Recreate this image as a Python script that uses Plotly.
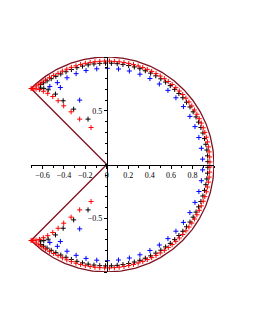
import numpy as np
import plotly.graph_objects as go

# ---------------- data (upper half; lower half is the complex conjugate) -------------
# points on the arc part: angle in degrees, radius
red_ang = [1.4, 4.2, 7.0, 9.8, 12.6, 15.3, 18.1, 20.8, 23.6, 26.3, 29.1, 31.8, 34.5, 37.2,
           39.9, 42.6, 45.3, 48.0, 50.7, 53.4, 56.1, 58.8, 61.5, 64.2, 66.9, 69.6, 72.3,
           75.0, 77.7, 80.4, 83.1, 85.8, 88.5, 91.2, 93.9, 96.6, 99.3, 102.0, 104.7, 107.4,
           110.1, 112.8, 115.5, 118.2, 120.9, 123.5, 126.0, 128.3, 130.3, 132.0]
red_rad = [0.962, 0.962, 0.962, 0.962, 0.962, 0.962, 0.962, 0.962, 0.962, 0.962, 0.962,
           0.962, 0.962, 0.962, 0.962, 0.962, 0.962, 0.962, 0.962, 0.962, 0.962, 0.962,
           0.962, 0.962, 0.962, 0.962, 0.962, 0.962, 0.962, 0.962, 0.962, 0.962, 0.962,
           0.962, 0.962, 0.962, 0.962, 0.962, 0.962, 0.962, 0.962, 0.962, 0.962, 0.962,
           0.965, 0.968, 0.972, 0.976, 0.980, 0.984]
# points near the corner and along the straight edge
red_x = [-0.660, -0.680, -0.695, -0.707, -0.628, -0.592, -0.551, -0.504, -0.454, -0.402,
         -0.333, -0.253, -0.147]
red_y = [0.703, 0.706, 0.707, 0.707, 0.697, 0.681, 0.662, 0.632, 0.593, 0.546,
         0.490, 0.422, 0.344]

black_ang = [1.6, 4.9, 8.2, 11.5, 14.8, 18.1, 21.4, 24.7, 28.0, 31.3, 34.6, 37.9, 41.2,
             44.5, 47.8, 51.1, 54.4, 57.7, 61.0, 64.3, 67.6, 70.9, 74.2, 77.5, 80.8, 84.1,
             87.4, 90.7, 94.0, 97.3, 100.6, 103.9, 107.2, 110.5, 113.8, 117.0, 120.1,
             123.0, 125.6, 127.8, 129.6]
black_rad = [0.943, 0.943, 0.943, 0.943, 0.943, 0.943, 0.943, 0.943, 0.943, 0.943, 0.943,
             0.943, 0.943, 0.943, 0.943, 0.943, 0.943, 0.943, 0.943, 0.943, 0.943, 0.943,
             0.943, 0.943, 0.943, 0.943, 0.943, 0.943, 0.943, 0.943, 0.943, 0.943, 0.943,
             0.943, 0.943, 0.945, 0.948, 0.952, 0.957, 0.962, 0.967]
black_x = [-0.620, -0.588, -0.547, -0.479, -0.407, -0.309, -0.175]
black_y = [0.712, 0.708, 0.695, 0.655, 0.593, 0.515, 0.422]

blue_ang = [3.2, 9.7, 16.3, 23.2, 30.0, 37.0, 43.9, 50.4, 56.8, 63.3, 69.8, 76.4, 83.0,
            89.6, 96.0, 102.5, 108.7, 114.7, 121.2, 126.2]
blue_rad = [0.895, 0.895, 0.895, 0.895, 0.895, 0.895, 0.895, 0.895, 0.895, 0.895, 0.895,
            0.895, 0.895, 0.895, 0.895, 0.895, 0.892, 0.888, 0.890, 0.900]
blue_x = [-0.433, -0.253]
blue_y = [0.716, 0.599]

# boundary of the sector region
sector_radius = 1.0
sector_half_angle = 135.0

x_ticks = [-0.6, -0.4, -0.2, 0, 0.2, 0.4, 0.6, 0.8]
x_tick_text = ["\u22120.6", "\u22120.4", "\u22120.2", "0", "0.2", "0.4", "0.6", "0.8"]
y_ticks = [-1, -0.5, 0.5, 1]
y_tick_text = ["", "\u22120.5", "0.5", ""]

# ---------------- build ----------------
def series(ang, rad, ex, ey):
    a = np.radians(ang)
    r = np.asarray(rad)
    ux = np.concatenate([r * np.cos(a), ex])
    uy = np.concatenate([r * np.sin(a), ey])
    return np.concatenate([ux, ux]), np.concatenate([uy, -uy])

fig = go.Figure()

t = np.radians(np.linspace(-sector_half_angle, sector_half_angle, 500))
bx = np.concatenate([[0], sector_radius * np.cos(t), [0]])
by = np.concatenate([[0], sector_radius * np.sin(t), [0]])
fig.add_trace(go.Scatter(x=bx, y=by, mode="lines",
                         line=dict(color="#7d1220", width=1.3),
                         cliponaxis=False, hoverinfo="skip"))

for (ang, rad, ex, ey, col) in [(blue_ang, blue_rad, blue_x, blue_y, "#0000ff"),
                                (black_ang, black_rad, black_x, black_y, "#000000"),
                                (red_ang, red_rad, red_x, red_y, "#ff0000")]:
    sx, sy = series(ang, rad, ex, ey)
    fig.add_trace(go.Scatter(x=sx, y=sy, mode="markers", cliponaxis=False,
                             hoverinfo="skip",
                             marker=dict(symbol="cross-thin", size=3.6,
                                         line=dict(color=col, width=1))))

font = dict(family="Liberation Serif, Times New Roman, serif", size=8, color="#000000")
fig.update_layout(
    width=255, height=330,
    margin=dict(l=31, r=41, t=57, b=58),
    paper_bgcolor="white", plot_bgcolor="white",
    showlegend=False,
    font=font,
    xaxis=dict(range=[-0.707, 1.0], anchor="free", position=0.5,
               showline=True, linecolor="#000000", linewidth=1,
               showgrid=False, zeroline=False,
               tickmode="array", tickvals=x_ticks, ticktext=x_tick_text,
               ticks="outside", ticklen=3, tickcolor="#000000", tickwidth=1,
               minor=dict(dtick=0.1, tick0=0, ticks="outside", ticklen=2,
                          tickcolor="#000000", showgrid=False),
               tickfont=font),
    yaxis=dict(range=[-1.0, 1.0], anchor="free", position=0.707 / 1.707,
               showline=True, linecolor="#000000", linewidth=1,
               showgrid=False, zeroline=False,
               tickmode="array", tickvals=y_ticks, ticktext=y_tick_text,
               ticks="outside", ticklen=3, tickcolor="#000000", tickwidth=1,
               minor=dict(dtick=0.1, tick0=0, ticks="outside", ticklen=2,
                          tickcolor="#000000", showgrid=False),
               tickfont=font),
)

fig.write_html("out.html", config={"displayModeBar": False, "staticPlot": True},
               post_script="document.body.style.margin='0';document.body.style.overflow='hidden';")
